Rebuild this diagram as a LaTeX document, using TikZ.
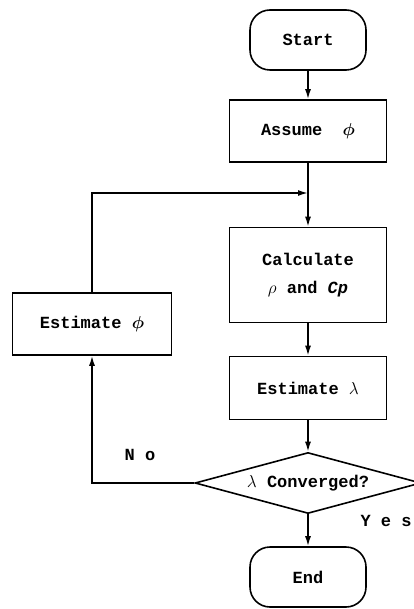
\documentclass[tikz,border=0pt]{standalone}
\usepackage{amsmath}
\usepackage{fontspec}
\setmainfont{Liberation Serif}
\setmonofont{Liberation Mono}
\usetikzlibrary{shapes.geometric,arrows.meta}

\begin{document}
\begin{tikzpicture}[x=1pt,y=-1pt,line width=1.6pt,>={Latex[length=10pt,width=6pt]}]
    \tikzset{box/.style = {shape=rectangle,draw,minimum width=157pt,minimum height=62pt,
                           font=\ttfamily\bfseries\fontsize{17}{28}\selectfont,align=center},
             term/.style = {box,rounded corners=20pt,minimum width=116pt,minimum height=60pt},
             test/.style = {shape=diamond,draw,inner sep=0pt,shape aspect=3.7,
                            minimum width=226pt,minimum height=61pt,
                            font=\ttfamily\bfseries\fontsize{17}{18}\selectfont},
             lbl/.style = {font=\ttfamily\bfseries\fontsize{17}{18}\selectfont}}
    \clip (0,0) rectangle (414,609);

    % Main column
    \node[term] (start) at (308,40) {Start};
    \node[box] (assume) at (308,131) {Assume\ \ $\boldsymbol{\phi}$};
    \node[box,minimum height=95pt] (calc) at (308,275) {Calculate\\$\rho$ and \textit{Cp}};
    \node[box,minimum height=63pt] (estlam) at (308,388) {Estimate $\lambda$};
    \node[test] (conv) at (308,483) {$\lambda$ Converged?};
    \node[term] (end) at (308,577) {End};

    % Feedback branch
    \node[box,minimum width=159pt] (estphi) at (92,324) {Estimate $\boldsymbol{\phi}$};
    \coordinate (merge) at (308,193);

    % Connectors
    \foreach \source/\target in {start/assume, assume/calc, calc/estlam, estlam/conv, conv/end}
        \draw[->] (\source) -- (\target);
    \draw[->] (estphi.north) |- (merge);
    \draw[->] (conv.west) -| (estphi.south);

    % Branch labels
    \node[lbl] (no) at (140,455) {N o};
    \node[lbl] (yes) at (386,521) {Y e s};
\end{tikzpicture}
\end{document}
